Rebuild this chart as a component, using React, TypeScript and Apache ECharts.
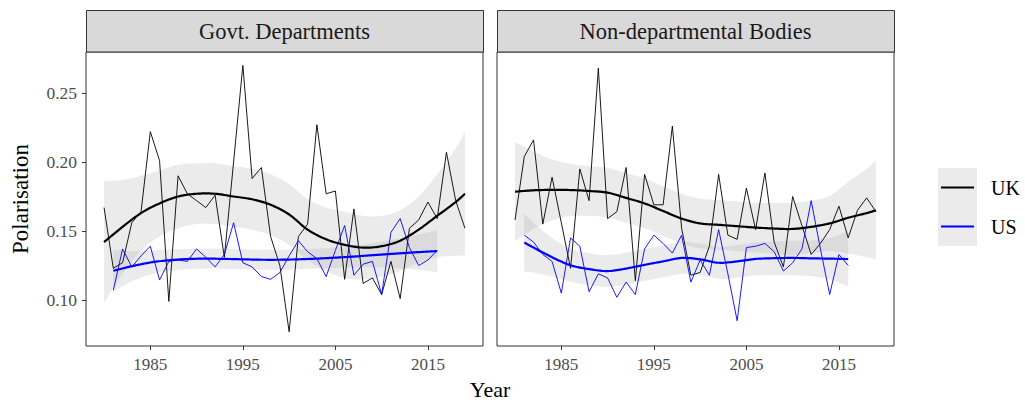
import React, { useEffect, useRef } from "react";
import * as echarts from "echarts";

// Annual polarisation scores, 1980-2019 (UK) and 1981-2016 (US)
const YEARS_UK = Array.from({ length: 40 }, (_, i) => 1980 + i);
const YEARS_US = Array.from({ length: 36 }, (_, i) => 1981 + i);

const UK_GOVT = [
  0.167, 0.123, 0.127, 0.156, 0.164, 0.222, 0.201, 0.099, 0.19, 0.177,
  0.172, 0.167, 0.176, 0.131, 0.2, 0.27, 0.188, 0.196, 0.146, 0.125,
  0.077, 0.146, 0.155, 0.227, 0.177, 0.179, 0.115, 0.166, 0.112, 0.116,
  0.104, 0.128, 0.101, 0.152, 0.158, 0.171, 0.159, 0.207, 0.172, 0.152,
];
const US_GOVT = [
  0.107, 0.137, 0.124, 0.132, 0.139, 0.1145, 0.128, 0.129, 0.128, 0.137,
  0.131, 0.124, 0.133, 0.156, 0.127, 0.124, 0.117, 0.115, 0.12, 0.132,
  0.143, 0.135, 0.13, 0.117, 0.136, 0.154, 0.118, 0.126, 0.128, 0.104,
  0.149, 0.159, 0.138, 0.125, 0.129, 0.136,
];
const UK_NDPB = [
  0.158, 0.204, 0.216, 0.155, 0.189, 0.156, 0.123, 0.195, 0.172, 0.268,
  0.159, 0.164, 0.196, 0.114, 0.191, 0.169, 0.169, 0.226, 0.152, 0.118,
  0.12, 0.139, 0.191, 0.147, 0.144, 0.181, 0.151, 0.192, 0.142, 0.124,
  0.175, 0.154, 0.133, 0.141, 0.151, 0.168, 0.145, 0.165, 0.174, 0.164,
];
const US_NDPB = [
  0.147, 0.142, 0.133, 0.128, 0.105, 0.145, 0.139, 0.106, 0.119, 0.116,
  0.102, 0.113, 0.104, 0.137, 0.147, 0.141, 0.134, 0.147, 0.113, 0.129,
  0.118, 0.151, 0.119, 0.085, 0.138, 0.139, 0.141, 0.135, 0.121, 0.127,
  0.137, 0.172, 0.137, 0.104, 0.133, 0.125,
];

// Smoothed trend (fit) and half-width of its confidence ribbon
const FIT_YEARS_UK = [1980, 1982, 1984, 1986, 1988, 1990, 1992, 1994, 1996, 1998, 2000, 2002, 2004, 2006, 2008, 2010, 2012, 2014, 2016, 2018, 2019];
const FIT_UK_GOVT = [0.142, 0.153, 0.163, 0.17, 0.175, 0.177, 0.177, 0.175, 0.173, 0.169, 0.162, 0.151, 0.144, 0.14, 0.138, 0.139, 0.143, 0.151, 0.161, 0.171, 0.177];
const HW_UK_GOVT = [0.044, 0.034, 0.027, 0.024, 0.023, 0.022, 0.022, 0.022, 0.022, 0.022, 0.022, 0.022, 0.023, 0.024, 0.023, 0.022, 0.022, 0.024, 0.03, 0.039, 0.045];
const FIT_UK_NDPB = [0.1785, 0.1795, 0.1798, 0.1797, 0.179, 0.1778, 0.174, 0.17, 0.1645, 0.159, 0.1555, 0.1545, 0.1535, 0.1525, 0.1518, 0.1515, 0.153, 0.1555, 0.1596, 0.163, 0.165];
const HW_UK_NDPB = [0.036, 0.028, 0.022, 0.019, 0.018, 0.018, 0.018, 0.018, 0.018, 0.018, 0.018, 0.018, 0.018, 0.018, 0.0185, 0.019, 0.019, 0.02, 0.026, 0.032, 0.036];

const FIT_YEARS_US_GOVT = [1981, 1983, 1985, 1987, 1989, 1991, 1993, 1995, 1997, 1999, 2001, 2003, 2005, 2007, 2009, 2011, 2013, 2015, 2016];
const FIT_US_GOVT = [0.1212, 0.1245, 0.1272, 0.1288, 0.1297, 0.13, 0.1298, 0.1295, 0.1292, 0.1292, 0.1295, 0.13, 0.1307, 0.1315, 0.1325, 0.1334, 0.1343, 0.1351, 0.1355];
const HW_US_GOVT = [0.015, 0.011, 0.0088, 0.0078, 0.0073, 0.0072, 0.0072, 0.0072, 0.0072, 0.0072, 0.0072, 0.0072, 0.0074, 0.0079, 0.0088, 0.01, 0.0118, 0.014, 0.0153];

const FIT_YEARS_US_NDPB = [1981, 1982, 1984, 1986, 1988, 1990, 1992, 1994, 1996, 1998, 2000, 2002, 2004, 2006, 2008, 2010, 2012, 2014, 2016];
const FIT_US_NDPB = [0.1417, 0.138, 0.131, 0.1252, 0.1224, 0.121, 0.1228, 0.1255, 0.128, 0.1305, 0.1295, 0.127, 0.128, 0.1298, 0.1303, 0.1305, 0.1302, 0.13, 0.1297];
const HW_US_NDPB = [0.021, 0.018, 0.014, 0.012, 0.0115, 0.0115, 0.0115, 0.0115, 0.0115, 0.0115, 0.0115, 0.0115, 0.0118, 0.012, 0.0122, 0.0125, 0.013, 0.015, 0.02];

const PANELS = ["Govt. Departments", "Non-departmental Bodies"];
const X_TICKS = [1985, 1995, 2005, 2015];
const Y_TICKS = [0.1, 0.15, 0.2, 0.25];
const COUNTRIES = ["UK", "US"];
const COLORS: Record<string, string> = { UK: "#000000", US: "#0000FF" };

const FONT = "'Liberation Serif', 'DejaVu Serif', serif";
const RIBBON = "rgba(153,153,153,0.2)";

const PANEL_LEFT = [86, 497];
const PANEL_TOP = 52;
const PANEL_W = 397;
const PANEL_H = 294;

const zip = (xs: number[], ys: number[]) => xs.map((x, i) => [x, ys[i]]);

// Catmull-Rom interpolation through pixel points, for smooth curves and ribbon edges
function densify(pts: number[][], steps = 10): number[][] {
  const out: number[][] = [];
  for (let i = 0; i < pts.length - 1; i++) {
    const p0 = pts[Math.max(0, i - 1)];
    const p1 = pts[i];
    const p2 = pts[i + 1];
    const p3 = pts[Math.min(pts.length - 1, i + 2)];
    for (let s = 0; s < steps; s++) {
      const t = s / steps;
      const t2 = t * t;
      const t3 = t2 * t;
      const f = (a: number, b: number, c: number, d: number) =>
        0.5 * (2 * b + (-a + c) * t + (2 * a - 5 * b + 4 * c - d) * t2 + (-a + 3 * b - 3 * c + d) * t3);
      out.push([f(p0[0], p1[0], p2[0], p3[0]), f(p0[1], p1[1], p2[1], p3[1])]);
    }
  }
  out.push(pts[pts.length - 1]);
  return out;
}

function ribbonSeries(idx: number, years: number[], fit: number[], hw: number[]) {
  return {
    type: "custom",
    xAxisIndex: idx,
    yAxisIndex: idx,
    silent: true,
    clip: true,
    z: 1,
    data: zip(years, fit),
    renderItem: (params: any, api: any) => {
      if (params.dataIndex !== 0) return null;
      const upper = years.map((y, i) => api.coord([y, fit[i] + hw[i]]));
      const lower = years.map((y, i) => api.coord([y, fit[i] - hw[i]]));
      const points = [...densify(upper), ...densify(lower).reverse()];
      return { type: "polygon", shape: { points }, style: { fill: RIBBON } };
    },
  };
}

function rawSeries(idx: number, key: string, years: number[], vals: number[]) {
  return {
    type: "line",
    name: key,
    xAxisIndex: idx,
    yAxisIndex: idx,
    data: zip(years, vals),
    symbol: "none",
    silent: true,
    lineStyle: { color: COLORS[key], width: 0.9 },
    z: 2,
  };
}

function fitSeries(idx: number, key: string, years: number[], fit: number[]) {
  return {
    type: "custom",
    xAxisIndex: idx,
    yAxisIndex: idx,
    silent: true,
    clip: true,
    z: 3,
    data: zip(years, fit),
    renderItem: (params: any, api: any) => {
      if (params.dataIndex !== 0) return null;
      const pts = years.map((y, i) => api.coord([y, fit[i]]));
      return {
        type: "polyline",
        shape: { points: densify(pts) },
        style: { stroke: COLORS[key], lineWidth: 2.2, fill: "none", lineJoin: "round" },
      };
    },
  };
}

export default function App() {
  const ref = useRef<HTMLDivElement>(null);

  useEffect(() => {
    if (!ref.current) return;
    const chart = echarts.init(ref.current, null, { renderer: "svg" });

    const grids = PANEL_LEFT.map((left) => ({
      left,
      top: PANEL_TOP,
      width: PANEL_W,
      height: PANEL_H,
      show: true,
      borderColor: "#333333",
      borderWidth: 1,
      containLabel: false,
    }));

    const xAxes = PANEL_LEFT.map((_, i) => ({
      type: "value",
      gridIndex: i,
      min: 1978.05,
      max: 2020.95,
      axisLine: { show: false },
      splitLine: { show: false },
      axisTick: { show: true, length: 4, lineStyle: { color: "#333333", width: 1 }, customValues: X_TICKS },
      axisLabel: {
        customValues: X_TICKS,
        formatter: (v: number) => String(v),
        color: "#4D4D4D",
        fontSize: 17,
        fontFamily: FONT,
        margin: 10,
      },
    }));

    const yAxes = PANEL_LEFT.map((_, i) => ({
      type: "value",
      gridIndex: i,
      min: 0.0667,
      max: 0.2797,
      axisLine: { show: false },
      splitLine: { show: false },
      axisTick: { show: i === 0, length: 4, lineStyle: { color: "#333333", width: 1 }, customValues: Y_TICKS },
      axisLabel: {
        show: i === 0,
        customValues: Y_TICKS,
        formatter: (v: number) => v.toFixed(2),
        color: "#4D4D4D",
        fontSize: 17.5,
        fontFamily: FONT,
        margin: 9,
      },
    }));

    const series = [
      ribbonSeries(0, FIT_YEARS_UK, FIT_UK_GOVT, HW_UK_GOVT),
      ribbonSeries(0, FIT_YEARS_US_GOVT, FIT_US_GOVT, HW_US_GOVT),
      ribbonSeries(1, FIT_YEARS_UK, FIT_UK_NDPB, HW_UK_NDPB),
      ribbonSeries(1, FIT_YEARS_US_NDPB, FIT_US_NDPB, HW_US_NDPB),
      rawSeries(0, "UK", YEARS_UK, UK_GOVT),
      rawSeries(0, "US", YEARS_US, US_GOVT),
      rawSeries(1, "UK", YEARS_UK, UK_NDPB),
      rawSeries(1, "US", YEARS_US, US_NDPB),
      fitSeries(0, "UK", FIT_YEARS_UK, FIT_UK_GOVT),
      fitSeries(0, "US", FIT_YEARS_US_GOVT, FIT_US_GOVT),
      fitSeries(1, "UK", FIT_YEARS_UK, FIT_UK_NDPB),
      fitSeries(1, "US", FIT_YEARS_US_NDPB, FIT_US_NDPB),
    ];

    const strips = PANELS.flatMap((label, i) => [
      {
        type: "rect",
        shape: { x: PANEL_LEFT[i] + 0.5, y: 10.5, width: PANEL_W, height: PANEL_TOP - 10.5 },
        style: { fill: "#D9D9D9", stroke: "#333333", lineWidth: 1 },
        z: 10,
      },
      {
        type: "text",
        x: PANEL_LEFT[i] + PANEL_W / 2,
        y: 31.5,
        style: { text: label, fill: "#1A1A1A", font: `22.5px ${FONT}`, align: "center", verticalAlign: "middle" },
        z: 11,
      },
    ]);

    const legendItems = COUNTRIES.flatMap((c, i) => {
      const cy = 187.5 + i * 39;
      return [
        {
          type: "line",
          shape: { x1: 941, y1: cy, x2: 974, y2: cy },
          style: { stroke: COLORS[c], lineWidth: 2.2 },
          z: 11,
        },
        {
          type: "text",
          x: 991,
          y: cy,
          style: { text: c, fill: "#000000", font: `20px ${FONT}`, align: "left", verticalAlign: "middle" },
          z: 11,
        },
      ];
    });

    chart.setOption({
      animation: false,
      backgroundColor: "#ffffff",
      grid: grids,
      xAxis: xAxes,
      yAxis: yAxes,
      series,
      graphic: [
        ...strips,
        {
          type: "text",
          x: 490,
          y: 389,
          style: { text: "Year", fill: "#000000", font: `22px ${FONT}`, align: "center", verticalAlign: "middle" },
        },
        {
          type: "text",
          x: 20,
          y: 199,
          rotation: Math.PI / 2,
          style: { text: "Polarisation", fill: "#000000", font: `23px ${FONT}`, align: "center", verticalAlign: "middle" },
        },
        {
          type: "rect",
          shape: { x: 938, y: 168, width: 39, height: 78 },
          style: { fill: "#EBEBEB" },
          z: 10,
        },
        ...legendItems,
      ],
    });

    return () => chart.dispose();
  }, []);

  return (
    <div
      ref={ref}
      style={{ position: "absolute", left: 0, top: 0, width: 1025, height: 400 }}
    />
  );
}
